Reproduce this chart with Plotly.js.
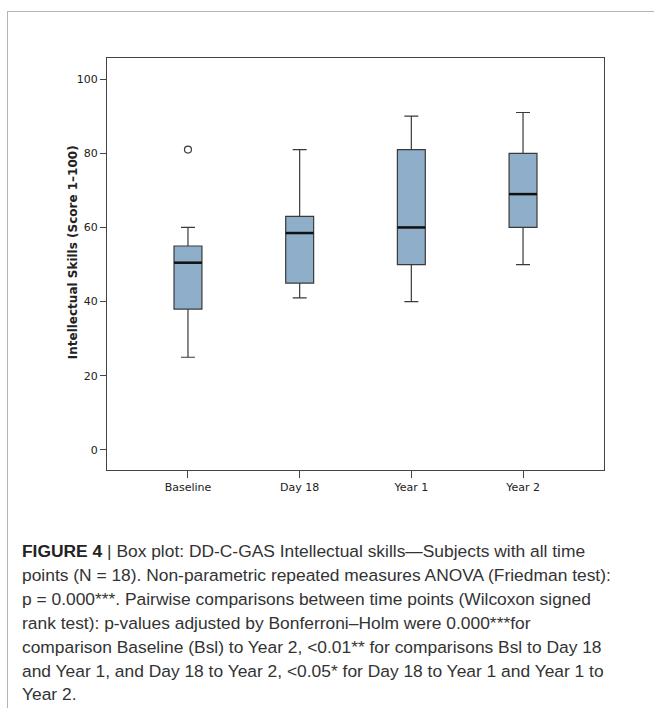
<!DOCTYPE html>
<html>
<head>
<meta charset="utf-8">
<script src="https://cdn.plot.ly/plotly-3.0.1.min.js"></script>
<style>
  html, body { margin: 0; padding: 0; background: #fff; }
  #wrap { position: relative; width: 654px; height: 708px; overflow: hidden; }
  #frame { position: absolute; left: 7px; top: 11px; width: 660px; height: 710px;
           border-top: 1px solid #b4b4b4; border-left: 1px solid #b4b4b4; }
  #chart { position: absolute; left: 0; top: 0; width: 654px; height: 708px; }
  #caption { position: absolute; left: 22px; top: 540px; white-space: nowrap;
             font-family: "Liberation Sans", Arial, sans-serif; font-size: 17.4px;
             line-height: 23.9px; color: #333; }
  #caption b { color: #222; }
</style>
</head>
<body>
<div id="wrap">
  <div id="frame"></div>
  <div id="chart"></div>
  <div id="caption">
    <b>FIGURE 4</b> | Box plot: DD-C-GAS Intellectual skills—Subjects with all time<br>
    points (N = 18). Non-parametric repeated measures ANOVA (Friedman test):<br>
    p = 0.000***. Pairwise comparisons between time points (Wilcoxon signed<br>
    rank test): p-values adjusted by Bonferroni–Holm were 0.000***for<br>
    comparison Baseline (Bsl) to Year 2, &lt;0.01** for comparisons Bsl to Day 18<br>
    and Year 1, and Day 18 to Year 2, &lt;0.05* for Day 18 to Year 1 and Year 1 to<br>
    Year 2.
  </div>
</div>
<script>
const categories = ["Baseline", "Day 18", "Year 1", "Year 2"];
const lowerWhisker = [25, 41, 40, 50];
const q1Values = [38, 45, 50, 60];
const medianValues = [50.5, 58.5, 60, 69];
const q3Values = [55, 63, 81, 80];
const upperWhisker = [60, 81, 90, 91];
const outlierCategories = ["Baseline"];
const outlierValues = [81];
const yTicks = [0, 20, 40, 60, 80, 100];
const yTitle = "Intellectual Skills (Score 1–100)";

const boxWidth = 0.25;

const traces = [
  {
    type: "box",
    x: categories,
    q1: q1Values,
    median: medianValues,
    q3: q3Values,
    lowerfence: lowerWhisker,
    upperfence: upperWhisker,
    boxpoints: false,
    width: boxWidth,
    whiskerwidth: 0.5,
    fillcolor: "#8eaec9",
    line: { color: "#3a3a3a", width: 1.2 },
    hoverinfo: "skip",
    showlegend: false
  },
  {
    type: "scatter",
    mode: "markers",
    x: outlierCategories,
    y: outlierValues,
    marker: { symbol: "circle-open", size: 7, color: "#3a3a3a", line: { width: 1.2, color: "#3a3a3a" } },
    hoverinfo: "skip",
    showlegend: false
  }
];

const shapes = medianValues.map((m, i) => ({
  type: "line", xref: "x", yref: "y",
  x0: i - boxWidth / 2, x1: i + boxWidth / 2, y0: m, y1: m,
  line: { color: "#111", width: 2.5 }, layer: "above"
}));

const axisFont = { family: "DejaVu Sans, sans-serif", size: 11, color: "#222" };

const layout = {
  width: 654, height: 708,
  margin: { l: 107, r: 50, t: 58, b: 238 },
  paper_bgcolor: "rgba(0,0,0,0)",
  plot_bgcolor: "#fff",
  showlegend: false,
  shapes: shapes,
  annotations: [{
    text: "<b>" + yTitle + "</b>",
    xref: "paper", yref: "paper",
    x: -0.068, y: 0.529,
    xanchor: "center", yanchor: "middle",
    textangle: -90, showarrow: false,
    font: { family: "DejaVu Sans, sans-serif", size: 12, color: "#222" }
  }],
  xaxis: {
    type: "category",
    range: [-0.725, 3.725],
    showline: true, mirror: true, linecolor: "#444", linewidth: 1,
    ticks: "outside", ticklen: 7, tickcolor: "#444", tickwidth: 1,
    tickfont: axisFont, showgrid: false, zeroline: false
  },
  yaxis: {
    range: [-5.4, 105.7],
    tickvals: yTicks,
    showline: true, mirror: true, linecolor: "#444", linewidth: 1,
    ticks: "outside", ticklen: 6, tickcolor: "#444", tickwidth: 1,
    tickfont: axisFont, showgrid: false, zeroline: false
  }
};

Plotly.newPlot("chart", traces, layout, { displayModeBar: false, staticPlot: true });
</script>
</body>
</html>
